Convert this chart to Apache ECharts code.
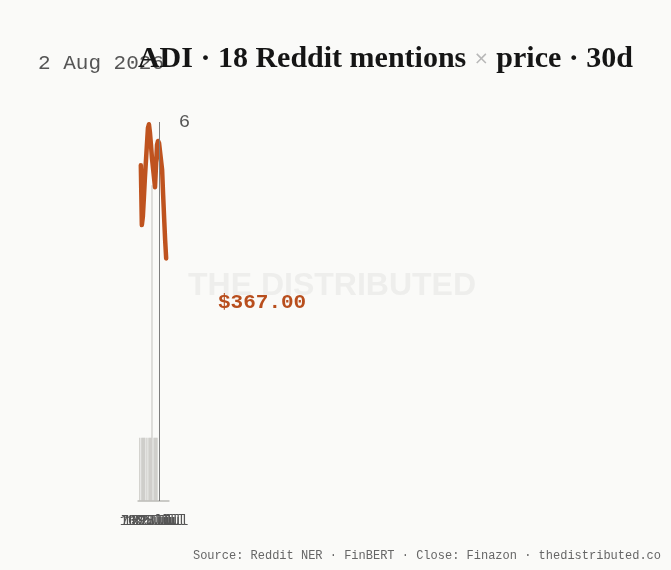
<!DOCTYPE html>
<html>
<head>
<meta charset="utf-8">
<script src="https://cdn.jsdelivr.net/npm/echarts@6/dist/echarts.min.js"></script>
<style>
html,body{margin:0;padding:0;background:#fafaf8;}
#chart{width:671px;height:570px;}
</style>
</head>
<body>
<div id="chart"></div>
<script>
const days = ['4 Jul','5 Jul','6 Jul','7 Jul','8 Jul','9 Jul','10 Jul','11 Jul','12 Jul','13 Jul',
  '14 Jul','15 Jul','16 Jul','17 Jul','18 Jul','19 Jul','20 Jul','21 Jul','22 Jul','23 Jul',
  '24 Jul','25 Jul','26 Jul','27 Jul','28 Jul','29 Jul','30 Jul','31 Jul','1 Aug','2 Aug'];
const mentions = [0,1,0,1,1,1,1,0,1,0,1,1,1,5,0,1,1,1,1,0,0,0,0,0,0,0,0,0,0,0];
const closes = [null,null,379.3,371.4,372.5,375.0,377.6,null,null,384.2,
  384.7,383.6,382.0,380.2,null,null,376.4,379.3,382.0,382.5,
  382.2,null,null,378.7,375.4,372.3,369.4,367.0,null,null];
const markerDay = '24 Jul';
const countTicks = [0, 6];
const priceRange = [335, 385];
const titleMain = 'ADI · 18 Reddit mentions';
const titleTail = 'price · 30d';
const dateText = '2 Aug 2026';
const lastPriceText = '$367.00';
const sourceText = 'Source: Reddit NER · FinBERT · Close: Finazon · thedistributed.co';

const mono = '"Liberation Mono", "DejaVu Sans Mono", monospace';
const chart = echarts.init(document.getElementById('chart'), null, {renderer: 'canvas'});
chart.setOption({
  backgroundColor: '#fafaf8',
  animation: false,
  grid: {left: 138.3, right: 502.3, top: 122, bottom: 69, containLabel: false},
  xAxis: {
    type: 'category',
    data: days,
    boundaryGap: true,
    axisLine: {show: true, lineStyle: {color: '#cacac6', width: 2}},
    axisTick: {show: false},
    axisLabel: {interval: 2, color: '#555', fontFamily: 'Liberation Mono', fontSize: 14, margin: 13}
  },
  yAxis: [
    {
      type: 'value', position: 'right', min: countTicks[0], max: countTicks[1], interval: countTicks[1],
      axisLine: {show: false}, axisTick: {show: false}, splitLine: {show: false},
      axisLabel: {showMinLabel: false, color: '#555', fontFamily: mono, fontSize: 19, margin: 10}
    },
    {
      type: 'value', position: 'left', min: priceRange[0], max: priceRange[1], show: false,
      splitLine: {show: false}
    }
  ],
  series: [
    {
      type: 'bar', yAxisIndex: 0, data: mentions, barCategoryGap: '0%',
      itemStyle: {color: '#c2c1bd'},
      markLine: {
        silent: true, symbol: 'none', label: {show: false},
        lineStyle: {color: '#7d7d7d', width: 1, type: 'solid'},
        data: [{xAxis: markerDay}]
      }
    },
    {
      type: 'line', yAxisIndex: 1, data: closes, connectNulls: true, showSymbol: false, smooth: false,
      lineStyle: {color: '#bf531f', width: 4.5, cap: 'round', join: 'round'}
    }
  ],
  graphic: [
    {type: 'text', left: 188, top: 270, silent: true, z: -1,
      style: {text: 'THE DISTRIBUTED', fill: '#eeeeec', font: 'bold 32px "Liberation Sans", Arial, sans-serif'}},
    {type: 'text', left: 38, top: 53, style: {text: dateText, fill: '#555', font: '21px ' + mono}},
    {type: 'text', right: 38, top: 44,
      style: {
        text: '{a|' + titleMain + ' }{x|×}{a| ' + titleTail + '}',
        rich: {
          a: {fontFamily: '"Liberation Serif", "DejaVu Serif", serif', fontWeight: 'bold', fontSize: 30, fill: '#151515', color: '#151515'},
          x: {fontFamily: '"DejaVu Sans", sans-serif', fontSize: 18, fill: '#b8b8b8', color: '#b8b8b8'}
        }
      }},
    {type: 'text', left: 218, top: 292, style: {text: lastPriceText, fill: '#b84e1d', font: 'bold 21px ' + mono}},
    {type: 'text', right: 10, top: 550, style: {text: sourceText, fill: '#666', font: '12px ' + mono}}
  ]
});
</script>
</body>
</html>
